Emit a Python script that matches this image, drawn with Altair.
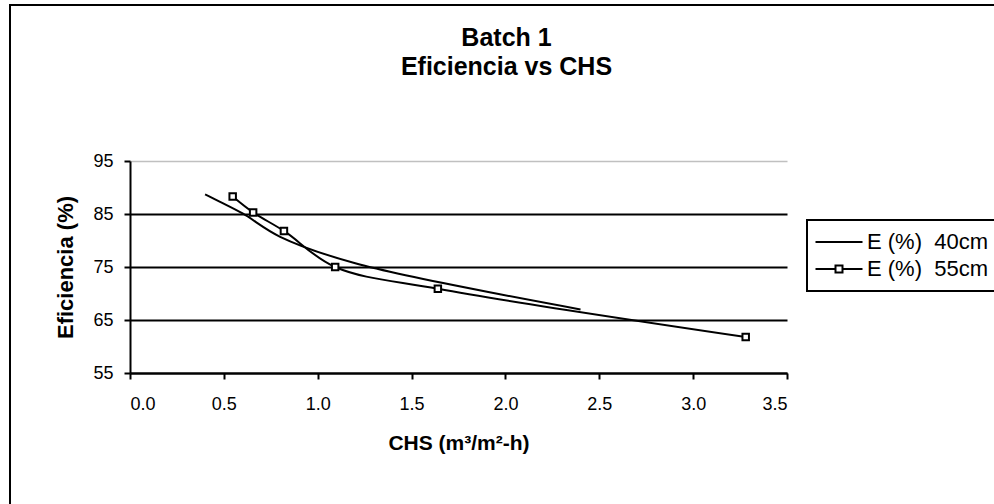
import altair as alt
import pandas as pd

# ---- data ----
series_names = ["E (%)\u00a0 40cm", "E (%)\u00a0 55cm"]
chs_40 = [0.40, 0.48, 0.60, 0.80, 1.20, 2.40]
eff_40 = [88.7, 87.3, 85.1, 80.7, 75.7, 67.0]
chs_55 = [0.547, 0.656, 0.820, 1.093, 1.640, 3.280]
eff_55 = [88.3, 85.3, 81.8, 75.0, 70.9, 61.8]
x_ticks = [0.0, 0.5, 1.0, 1.5, 2.0, 2.5, 3.0, 3.5]
y_ticks = [55, 65, 75, 85, 95]

df = pd.DataFrame({
    "chs": chs_40 + chs_55,
    "eff": eff_40 + eff_55,
    "serie": [series_names[0]] * len(chs_40) + [series_names[1]] * len(chs_55),
})
df55 = df[df["serie"] == series_names[1]]

FONT = "Liberation Sans"
PLOT_W, PLOT_H = 657, 212

# legend symbols: plain line, and line with open square
path_40 = "M-4.7,0H4.7"
path_55 = "M-4.7,0H-0.7M0.7,0H4.7M-0.7,-0.7H0.7V0.7H-0.7Z"

x_enc = alt.X(
    "chs:Q",
    scale=alt.Scale(domain=[0, 3.5], nice=False, zero=False),
    axis=alt.Axis(
        values=x_ticks, format=".1f", grid=False,
        title="CHS (m³/m²-h)", titleFontSize=21, titleFontWeight="bold",
        titleFont=FONT, titleColor="black", titleY=76, titleBaseline="alphabetic",
        labelFontSize=18, labelFont=FONT, labelColor="black", labelPadding=16,
        tickSize=6, tickColor="black", tickWidth=2,
        domainColor="black", domainWidth=2,
    ),
)
y_enc = alt.Y(
    "eff:Q",
    scale=alt.Scale(domain=[55, 95], nice=False, zero=False),
    axis=alt.Axis(
        values=y_ticks, format="d",
        grid=True,
        gridColor=alt.condition("datum.value == 95", alt.value("#c0c0c0"), alt.value("black")),
        gridWidth=alt.condition("datum.value == 95", alt.value(1.5), alt.value(2)),
        title="Eficiencia (%)", titleFontSize=22, titleFontWeight="bold",
        titleFont=FONT, titleColor="black",
        titleX=-65, titleY=106, titleAngle=270, titleAlign="center", titleBaseline="middle",
        labelFontSize=18, labelFont=FONT, labelColor="black", labelPadding=11,
        tickSize=6, tickColor="black", tickWidth=2,
        domainColor="black", domainWidth=2,
    ),
)

border = alt.Chart(pd.DataFrame({"k": [0]})).mark_rect(
    filled=False, stroke="black", strokeWidth=2
).encode(
    x=alt.value(-120), x2=alt.value(900), y=alt.value(-156), y2=alt.value(420)
)

lines = alt.Chart(df).mark_line(
    interpolate="catmull-rom", color="black", strokeWidth=2
).encode(x=x_enc, y=y_enc, detail="serie:N")

points = alt.Chart(df55).mark_square(
    size=42, fill="white", stroke="black", strokeWidth=2, opacity=1, filled=True
).encode(x="chs:Q", y="eff:Q")

legend_layer = alt.Chart(df).transform_filter("false").mark_point(
    color="black", filled=False, opacity=1
).encode(
    shape=alt.Shape(
        "serie:N",
        scale=alt.Scale(domain=series_names, range=[path_40, path_55]),
        legend=alt.Legend(
            title=None, orient="none", legendX=677, legendY=59,
            strokeColor="black", padding=11,
            symbolSize=100, symbolStrokeWidth=2, symbolStrokeColor="black",
            symbolOpacity=1, symbolFillColor="white", symbolOffset=10,
            labelFontSize=22, labelFont=FONT, labelColor="black",
            labelOffset=17, rowPadding=5,
        ),
    )
)

chart = alt.layer(border, lines, points, legend_layer).properties(
    width=PLOT_W,
    height=PLOT_H,
    title=alt.TitleParams(
        text=["Batch 1", "Eficiencia vs CHS"],
        font=FONT, fontSize=25, fontWeight="bold", color="black",
        anchor="middle", frame="group", dx=48, offset=0, dy=101,
        lineHeight=29, baseline="bottom",
    ),
    autosize=alt.AutoSizeParams(type="none"),
    padding={"left": 130, "top": 161, "right": 207, "bottom": 131},
    background="white",
).configure_view(stroke=None).configure_legend(strokeWidth=2)

chart.save("out.html", embed_options={"renderer": "svg", "actions": False})
